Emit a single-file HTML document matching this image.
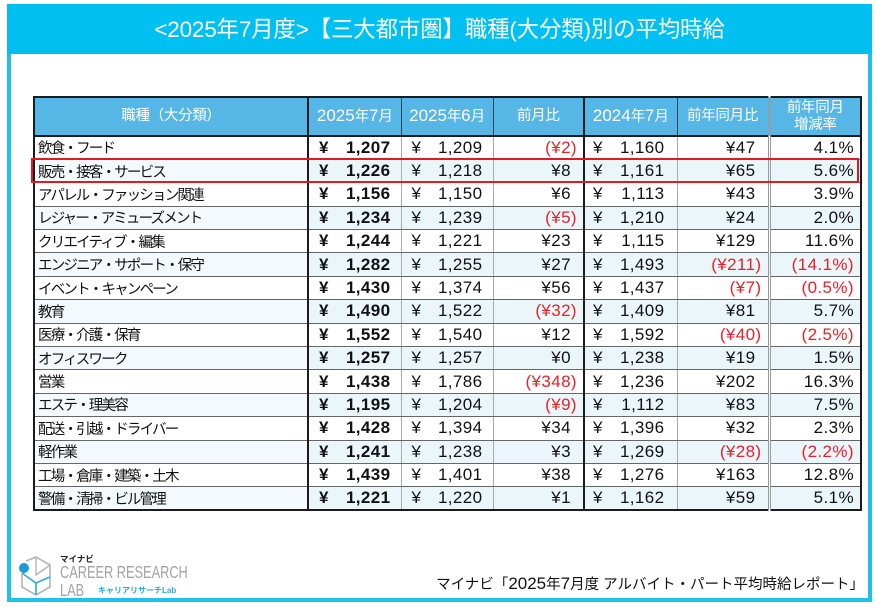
<!DOCTYPE html>
<html><head><meta charset="utf-8">
<style>
*{margin:0;padding:0;box-sizing:border-box}
body{width:876px;height:607px;background:#fff;position:relative;overflow:hidden;font-family:"Liberation Sans","Noto Sans CJK JP",sans-serif;color:#111}
.frame{position:absolute;left:7px;top:4px;width:865px;height:598px;border:4px solid #1ec0ee;}
.banner{position:absolute;left:7px;top:4px;width:865px;height:50px;background:#00c0f2;color:#fff;font-size:22.5px;text-align:center;line-height:52px;letter-spacing:-0.2px;font-family:"Liberation Sans","Noto Sans CJK JP",sans-serif}
table{position:absolute;left:33px;top:96px;width:827px;border-collapse:collapse;table-layout:fixed;border:2px solid #1b1b1b}
th{background:#56b6e6;color:#fff;font-weight:normal;font-size:14.5px;height:39px;border:1px solid #2a4a5a;border-bottom:2px solid #1b1b1b;line-height:17px;letter-spacing:-0.3px}
th .d{font-size:17px;letter-spacing:0}
td{height:23.4px;border-top:1px solid #666;border-bottom:1px solid #666;border-left:1px solid #aaa;border-right:1px solid #aaa;font-size:17px;letter-spacing:0.4px;white-space:nowrap;padding:0}
td.n{font-size:14.5px;letter-spacing:-1.8px;padding-left:3px;border-left:2px solid #1b1b1b}
.tk{border-left:2px solid #1b1b1b !important}
.dbl{border-left:3px double #999 !important}
tr.e td{background:#ebf6fb}
tr.e td.n{background:#f3f9fc}
.y{display:flex;justify-content:space-between;padding:0 10px 0 10px}
.y2{display:flex;justify-content:space-between;padding:0 12px 0 8px}
.b{font-weight:bold}
.r{text-align:right;padding-right:6px}
.rp{text-align:right;padding-right:6px}
.neg{color:#e5212b}
.h{visibility:hidden}
.redbox{position:absolute;left:31px;top:158px;width:828px;height:25px;border:2px solid #e01a22}
.foot{position:absolute;right:12px;top:573px;font-size:14.5px;color:#111;letter-spacing:0px;white-space:nowrap}
.foot .d{font-size:17px}
.logo1{position:absolute;left:60px;top:553px;font-size:8.5px;font-weight:bold;color:#222}
.logo2{position:absolute;left:60px;top:562px;font-size:17.5px;color:#a3a3a3;transform:scaleX(0.73);transform-origin:left top;white-space:nowrap;line-height:20px}
.logo3{position:absolute;left:60px;top:580px;font-size:17.5px;color:#a3a3a3;transform:scaleX(0.73);transform-origin:left top;white-space:nowrap;line-height:20px}
.logo4{position:absolute;left:98px;top:585px;font-size:8px;font-weight:bold;color:#2aa8e0;white-space:nowrap}
</style></head><body>
<div class="frame"></div>
<div class="banner">&lt;2025年7月度&gt;【三大都市圏】職種(大分類)別の平均時給</div>
<table>
<colgroup><col style="width:274px"><col style="width:93px"><col style="width:92px"><col style="width:91px"><col style="width:93px"><col style="width:92px"><col style="width:92px"></colgroup>
<tr><th>職種（大分類）</th><th class="tk"><span class="d">2025</span>年<span class="d">7</span>月</th><th><span class="d">2025</span>年<span class="d">6</span>月</th><th>前月比</th><th class="tk"><span class="d">2024</span>年<span class="d">7</span>月</th><th>前年同月比</th><th class="dbl">前年同月<br>増減率</th></tr>
<tr><td class="n">飲食・フード</td><td class="tk"><div class="y b"><span>¥</span><span>1,207</span></div></td><td><div class="y"><span>¥</span><span>1,209</span></div></td><td class="rp neg">(¥2)</td><td class="tk"><div class="y2"><span>¥</span><span>1,160</span></div></td><td class="rp">¥47<span class="h">)</span></td><td class="r dbl">4.1%</td></tr>
<tr class="e"><td class="n">販売・接客・サービス</td><td class="tk"><div class="y b"><span>¥</span><span>1,226</span></div></td><td><div class="y"><span>¥</span><span>1,218</span></div></td><td class="rp">¥8<span class="h">)</span></td><td class="tk"><div class="y2"><span>¥</span><span>1,161</span></div></td><td class="rp">¥65<span class="h">)</span></td><td class="r dbl">5.6%</td></tr>
<tr><td class="n">アパレル・ファッション関連</td><td class="tk"><div class="y b"><span>¥</span><span>1,156</span></div></td><td><div class="y"><span>¥</span><span>1,150</span></div></td><td class="rp">¥6<span class="h">)</span></td><td class="tk"><div class="y2"><span>¥</span><span>1,113</span></div></td><td class="rp">¥43<span class="h">)</span></td><td class="r dbl">3.9%</td></tr>
<tr class="e"><td class="n">レジャー・アミューズメント</td><td class="tk"><div class="y b"><span>¥</span><span>1,234</span></div></td><td><div class="y"><span>¥</span><span>1,239</span></div></td><td class="rp neg">(¥5)</td><td class="tk"><div class="y2"><span>¥</span><span>1,210</span></div></td><td class="rp">¥24<span class="h">)</span></td><td class="r dbl">2.0%</td></tr>
<tr><td class="n">クリエイティブ・編集</td><td class="tk"><div class="y b"><span>¥</span><span>1,244</span></div></td><td><div class="y"><span>¥</span><span>1,221</span></div></td><td class="rp">¥23<span class="h">)</span></td><td class="tk"><div class="y2"><span>¥</span><span>1,115</span></div></td><td class="rp">¥129<span class="h">)</span></td><td class="r dbl">11.6%</td></tr>
<tr class="e"><td class="n">エンジニア・サポート・保守</td><td class="tk"><div class="y b"><span>¥</span><span>1,282</span></div></td><td><div class="y"><span>¥</span><span>1,255</span></div></td><td class="rp">¥27<span class="h">)</span></td><td class="tk"><div class="y2"><span>¥</span><span>1,493</span></div></td><td class="rp neg">(¥211)</td><td class="r dbl neg">(14.1%)</td></tr>
<tr><td class="n">イベント・キャンペーン</td><td class="tk"><div class="y b"><span>¥</span><span>1,430</span></div></td><td><div class="y"><span>¥</span><span>1,374</span></div></td><td class="rp">¥56<span class="h">)</span></td><td class="tk"><div class="y2"><span>¥</span><span>1,437</span></div></td><td class="rp neg">(¥7)</td><td class="r dbl neg">(0.5%)</td></tr>
<tr class="e"><td class="n">教育</td><td class="tk"><div class="y b"><span>¥</span><span>1,490</span></div></td><td><div class="y"><span>¥</span><span>1,522</span></div></td><td class="rp neg">(¥32)</td><td class="tk"><div class="y2"><span>¥</span><span>1,409</span></div></td><td class="rp">¥81<span class="h">)</span></td><td class="r dbl">5.7%</td></tr>
<tr><td class="n">医療・介護・保育</td><td class="tk"><div class="y b"><span>¥</span><span>1,552</span></div></td><td><div class="y"><span>¥</span><span>1,540</span></div></td><td class="rp">¥12<span class="h">)</span></td><td class="tk"><div class="y2"><span>¥</span><span>1,592</span></div></td><td class="rp neg">(¥40)</td><td class="r dbl neg">(2.5%)</td></tr>
<tr class="e"><td class="n">オフィスワーク</td><td class="tk"><div class="y b"><span>¥</span><span>1,257</span></div></td><td><div class="y"><span>¥</span><span>1,257</span></div></td><td class="rp">¥0<span class="h">)</span></td><td class="tk"><div class="y2"><span>¥</span><span>1,238</span></div></td><td class="rp">¥19<span class="h">)</span></td><td class="r dbl">1.5%</td></tr>
<tr><td class="n">営業</td><td class="tk"><div class="y b"><span>¥</span><span>1,438</span></div></td><td><div class="y"><span>¥</span><span>1,786</span></div></td><td class="rp neg">(¥348)</td><td class="tk"><div class="y2"><span>¥</span><span>1,236</span></div></td><td class="rp">¥202<span class="h">)</span></td><td class="r dbl">16.3%</td></tr>
<tr class="e"><td class="n">エステ・理美容</td><td class="tk"><div class="y b"><span>¥</span><span>1,195</span></div></td><td><div class="y"><span>¥</span><span>1,204</span></div></td><td class="rp neg">(¥9)</td><td class="tk"><div class="y2"><span>¥</span><span>1,112</span></div></td><td class="rp">¥83<span class="h">)</span></td><td class="r dbl">7.5%</td></tr>
<tr><td class="n">配送・引越・ドライバー</td><td class="tk"><div class="y b"><span>¥</span><span>1,428</span></div></td><td><div class="y"><span>¥</span><span>1,394</span></div></td><td class="rp">¥34<span class="h">)</span></td><td class="tk"><div class="y2"><span>¥</span><span>1,396</span></div></td><td class="rp">¥32<span class="h">)</span></td><td class="r dbl">2.3%</td></tr>
<tr class="e"><td class="n">軽作業</td><td class="tk"><div class="y b"><span>¥</span><span>1,241</span></div></td><td><div class="y"><span>¥</span><span>1,238</span></div></td><td class="rp">¥3<span class="h">)</span></td><td class="tk"><div class="y2"><span>¥</span><span>1,269</span></div></td><td class="rp neg">(¥28)</td><td class="r dbl neg">(2.2%)</td></tr>
<tr><td class="n">工場・倉庫・建築・土木</td><td class="tk"><div class="y b"><span>¥</span><span>1,439</span></div></td><td><div class="y"><span>¥</span><span>1,401</span></div></td><td class="rp">¥38<span class="h">)</span></td><td class="tk"><div class="y2"><span>¥</span><span>1,276</span></div></td><td class="rp">¥163<span class="h">)</span></td><td class="r dbl">12.8%</td></tr>
<tr class="e"><td class="n">警備・清掃・ビル管理</td><td class="tk"><div class="y b"><span>¥</span><span>1,221</span></div></td><td><div class="y"><span>¥</span><span>1,220</span></div></td><td class="rp">¥1<span class="h">)</span></td><td class="tk"><div class="y2"><span>¥</span><span>1,162</span></div></td><td class="rp">¥59<span class="h">)</span></td><td class="r dbl">5.1%</td></tr>
</table>
<div class="redbox"></div>

<svg style="position:absolute;left:14px;top:553px" width="44" height="46" viewBox="0 0 44 46">
  <polyline points="12,8 22,4 36,12 36,34 22,42 8,34 8,20" fill="none" stroke="#b5b5b5" stroke-width="1.6"/>
  <polyline points="22,4 22,22 36,12" fill="none" stroke="#b5b5b5" stroke-width="1.4"/>
  <polyline points="8,20 22,30 36,24" fill="none" stroke="#2aa8e0" stroke-width="1.6"/>
  <line x1="22" y1="30" x2="22" y2="42" stroke="#2aa8e0" stroke-width="1.6"/>
  <circle cx="10" cy="15" r="5" fill="#1c9ad8"/>
</svg>
<div class="logo1">マイナビ</div>
<div class="logo2">CAREER RESEARCH</div>
<div class="logo3">LAB</div>
<div class="logo4">キャリアリサーチLab</div>

<div class="foot">マイナビ「<span class="d">2025</span>年<span class="d">7</span>月度 アルバイト・パート平均時給レポート」</div>
</body></html>
